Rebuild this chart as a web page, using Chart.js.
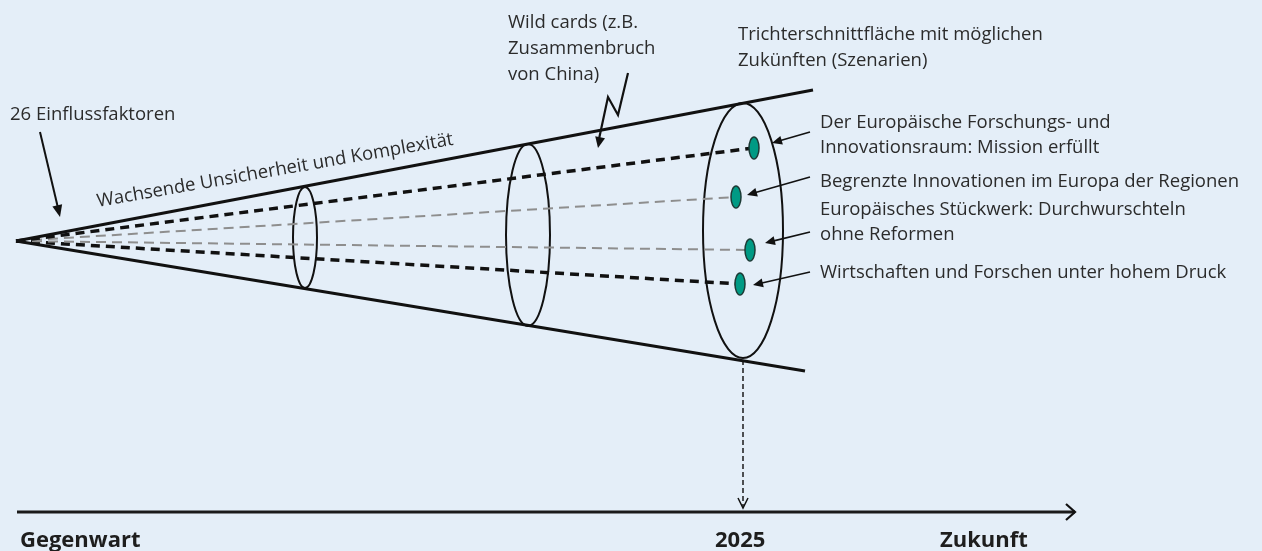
<!DOCTYPE html>
<html>
<head>
<meta charset="utf-8">
<script src="https://cdn.jsdelivr.net/npm/chart.js@4/dist/chart.umd.min.js"></script>
<style>
html, body { margin: 0; padding: 0; background: #e4eef8; }
#wrap { width: 1262px; height: 551px; }
</style>
</head>
<body>
<div id="wrap"><canvas id="trichter"></canvas></div>
<script>
// Spitze des Trichters (Gegenwart) und Enden der Trichterwand
var apex = {x: 16, y: 241};
var funnelEnds = [{x: 813, y: 90}, {x: 805, y: 371}];

// Schnittflaechen (Ellipsen)
var sectionX = [305, 528, 743];
var sectionTop = [187, 144, 103];
var sectionBottom = [288, 326, 358];
var sectionHalfWidth = [12, 22, 40];

// Szenarien
var scenarioLabels = [
    ['Der Europäische Forschungs- und', 'Innovationsraum: Mission erfüllt'],
    ['Begrenzte Innovationen im Europa der Regionen'],
    ['Europäisches Stückwerk: Durchwurschteln', 'ohne Reformen'],
    ['Wirtschaften und Forschen unter hohem Druck']
];
var scenarioX = [754, 736, 750, 740];
var scenarioY = [148, 197, 250, 284];
var scenarioStrong = [true, false, false, true];
var scenarioLabelY = [128, 187, 215, 278];
var pointerFromY = [132, 177, 232, 272];
var pointerTipX = [772, 747, 765, 753];
var pointerTipY = [143, 195, 243, 285];

// Hinweise
var notes = [
    ['26 Einflussfaktoren'],
    ['Wild cards (z.B.', 'Zusammenbruch', 'von China)'],
    ['Trichterschnittfläche mit möglichen', 'Zukünften (Szenarien)']
];
var noteX = [10, 508, 738];
var noteY = [120, 28, 40];
var influenceArrow = [[40, 132], [60, 217]];
var wildcardZigzag = [[628, 73], [618, 115], [608, 97], [598, 148]];
var trendText = 'Wachsende Unsicherheit und Komplexität';

// Zeitachse
var timeLabels = ['Gegenwart', '2025', 'Zukunft'];
var timeLabelX = [20, 715, 940];
var axisStart = 17, axisEnd = 1075, axisY = 512;
var horizonX = 743, horizonFrom = 360;

var FONT = '"Open Sans", "DejaVu Sans", sans-serif';

// Punkt-Symbol fuer die Szenarien
function makeDot() {
    var c = document.createElement('canvas');
    c.width = 14; c.height = 26;
    var g = c.getContext('2d');
    g.beginPath();
    g.ellipse(7, 13, 5, 11, 0, 0, Math.PI * 2);
    g.fillStyle = '#009a84';
    g.fill();
    g.lineWidth = 1.5;
    g.strokeStyle = '#1c3b36';
    g.stroke();
    return c;
}

function arrowHead(ctx, x1, y1, x2, y2, len, wid) {
    var a = Math.atan2(y2 - y1, x2 - x1);
    ctx.beginPath();
    ctx.moveTo(x2, y2);
    ctx.lineTo(x2 - len * Math.cos(a) + wid * Math.sin(a), y2 - len * Math.sin(a) - wid * Math.cos(a));
    ctx.lineTo(x2 - len * Math.cos(a) - wid * Math.sin(a), y2 - len * Math.sin(a) + wid * Math.cos(a));
    ctx.closePath();
    ctx.fill();
}

function openHead(ctx, x1, y1, x2, y2, len, wid) {
    var a = Math.atan2(y2 - y1, x2 - x1);
    ctx.beginPath();
    ctx.moveTo(x2 - len * Math.cos(a) + wid * Math.sin(a), y2 - len * Math.sin(a) - wid * Math.cos(a));
    ctx.lineTo(x2, y2);
    ctx.lineTo(x2 - len * Math.cos(a) - wid * Math.sin(a), y2 - len * Math.sin(a) + wid * Math.cos(a));
    ctx.stroke();
}

var datasets = [];
funnelEnds.forEach(function(end){
    datasets.push({
        data: [apex, end],
        showLine: true,
        borderColor: '#111',
        borderWidth: 3,
        pointRadius: 0,
        order: 2
    });
});
scenarioX.forEach(function(x, i){
    datasets.push({
        data: [apex, {x: x, y: scenarioY[i]}],
        showLine: true,
        borderColor: scenarioStrong[i] ? '#111' : '#8e8e8e',
        borderWidth: scenarioStrong[i] ? 3.5 : 2,
        borderDash: scenarioStrong[i] ? [9, 6] : [10, 6],
        pointRadius: 0,
        order: 3
    });
});
datasets.push({
    data: [{x: axisStart, y: axisY}, {x: axisEnd, y: axisY}],
    showLine: true,
    borderColor: '#1a1a1a',
    borderWidth: 3,
    pointRadius: 0,
    order: 2
});
datasets.push({
    data: [{x: horizonX, y: horizonFrom}, {x: horizonX, y: axisY - 6}],
    showLine: true,
    borderColor: '#1a1a1a',
    borderWidth: 1.5,
    borderDash: [5, 3],
    pointRadius: 0,
    order: 2
});
var dotImg = makeDot();
datasets.push({
    data: scenarioX.map(function(x, i){ return {x: x, y: scenarioY[i]}; }),
    showLine: false,
    pointStyle: dotImg,
    pointRadius: 11,
    order: 0
});

var drawingPlugin = {
    id: 'trichterDeko',
    beforeDatasetsDraw: function(chart) {
        var ctx = chart.ctx, sx = chart.scales.x, sy = chart.scales.y;
        ctx.save();
        ctx.strokeStyle = '#111';
        ctx.lineWidth = 2;
        sectionX.forEach(function(x, i){
            var top = sy.getPixelForValue(sectionTop[i]);
            var bot = sy.getPixelForValue(sectionBottom[i]);
            var cx = sx.getPixelForValue(x);
            var rx = sx.getPixelForValue(x + sectionHalfWidth[i]) - cx;
            ctx.beginPath();
            ctx.ellipse(cx, (top + bot) / 2, rx, (bot - top) / 2, 0, 0, Math.PI * 2);
            ctx.stroke();
        });
        ctx.restore();
    },
    afterDatasetsDraw: function(chart) {
        var ctx = chart.ctx, sx = chart.scales.x, sy = chart.scales.y;
        function X(v){ return sx.getPixelForValue(v); }
        function Y(v){ return sy.getPixelForValue(v); }
        ctx.save();
        ctx.strokeStyle = '#111';
        ctx.fillStyle = '#111';

        // Zeiger zu den Szenarien
        ctx.lineWidth = 1.6;
        pointerTipX.forEach(function(tx, i){
            var x1 = X(810), y1 = Y(pointerFromY[i]), x2 = X(tx), y2 = Y(pointerTipY[i]);
            ctx.beginPath();
            ctx.moveTo(x1, y1);
            ctx.lineTo(x2 + 8 * (x1 - x2) / Math.hypot(x1 - x2, y1 - y2), y2 + 8 * (y1 - y2) / Math.hypot(x1 - x2, y1 - y2));
            ctx.stroke();
            arrowHead(ctx, x1, y1, x2, y2, 10, 4.5);
        });

        // 26 Einflussfaktoren Pfeil
        var a = influenceArrow;
        ctx.lineWidth = 2;
        ctx.beginPath();
        ctx.moveTo(X(a[0][0]), Y(a[0][1]));
        ctx.lineTo(X(a[1][0]) - 2, Y(a[1][1]) - 9);
        ctx.stroke();
        arrowHead(ctx, X(a[0][0]), Y(a[0][1]), X(a[1][0]), Y(a[1][1]), 12, 5);

        // Wild card Blitz
        var z = wildcardZigzag;
        ctx.lineWidth = 2.2;
        ctx.lineJoin = 'miter';
        ctx.beginPath();
        ctx.moveTo(X(z[0][0]), Y(z[0][1]));
        for (var k = 1; k < z.length - 1; k++) ctx.lineTo(X(z[k][0]), Y(z[k][1]));
        ctx.lineTo(X(z[3][0]) + 1, Y(z[3][1]) - 9);
        ctx.stroke();
        arrowHead(ctx, X(z[2][0]), Y(z[2][1]), X(z[3][0]), Y(z[3][1]), 11, 5);

        // Pfeilspitzen der Zeitachse
        ctx.lineWidth = 2.2;
        openHead(ctx, X(axisStart), Y(axisY), X(axisEnd), Y(axisY), 9, 8);
        ctx.lineWidth = 1.5;
        openHead(ctx, X(horizonX), Y(horizonFrom), X(horizonX), Y(axisY - 4), 10, 5);

        // Texte
        ctx.fillStyle = '#2b2b2b';
        ctx.textBaseline = 'alphabetic';
        ctx.textAlign = 'left';
        ctx.font = '18.5px ' + FONT;
        notes.forEach(function(lines, i){
            lines.forEach(function(t, j){
                ctx.fillText(t, X(noteX[i]), Y(noteY[i]) + j * 26);
            });
        });
        scenarioLabels.forEach(function(lines, i){
            lines.forEach(function(t, j){
                ctx.fillText(t, X(820), Y(scenarioLabelY[i]) + j * 25);
            });
        });

        ctx.save();
        ctx.translate(X(98), Y(207));
        ctx.rotate(-Math.atan(0.175));
        ctx.fillText(trendText, 0, 0);
        ctx.restore();

        ctx.font = 'bold 22px ' + FONT;
        ctx.fillStyle = '#1e1e1e';
        timeLabels.forEach(function(t, i){
            ctx.fillText(t, X(timeLabelX[i]), Y(547));
        });
        ctx.restore();
    }
};

new Chart(document.getElementById('trichter'), {
    type: 'scatter',
    data: { datasets: datasets },
    options: {
        responsive: true,
        maintainAspectRatio: false,
        animation: false,
        layout: { padding: 0, autoPadding: false },
        plugins: {
            legend: { display: false },
            tooltip: { enabled: false }
        },
        scales: {
            x: { type: 'linear', min: 0, max: 1262, display: false },
            y: { type: 'linear', min: 0, max: 551, reverse: true, display: false }
        }
    },
    plugins: [drawingPlugin]
});
</script>
</body>
</html>
